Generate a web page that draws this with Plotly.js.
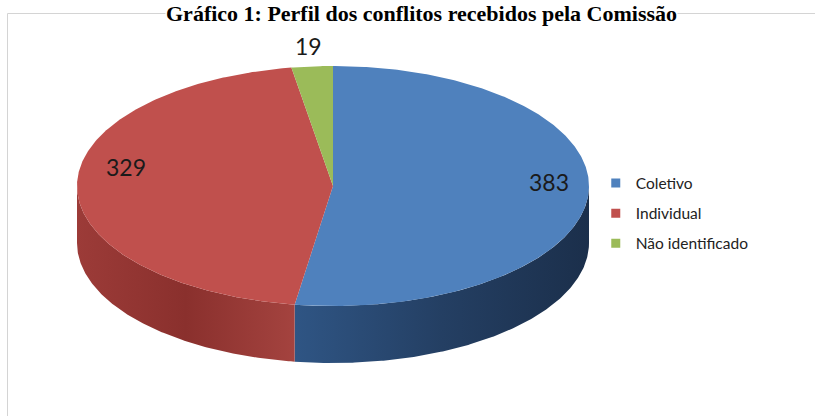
<!DOCTYPE html>
<html><head><meta charset="utf-8">
<script src="https://cdn.plot.ly/plotly-3.0.1.min.js"></script>
<style>html,body{margin:0;padding:0;background:#fff}#chart{width:815px;height:416px}</style>
</head><body><div id="chart"></div>
<script>
const categories = ['Coletivo', 'Individual', 'Não identificado'];
const values = [383, 329, 19];
const topColors = ['#4f81bd', '#c0504d', '#9bbb59'];
const sideScales = [
  [[0, '#2f5584'], [0.5, '#243f63'], [1, '#1b2f4b']],
  [[0, '#9c3b38'], [0.5, '#8a302d'], [1, '#a4433f']],
  [[0, '#7a9a3e'], [1, '#6a8834']]
];
const titleText = 'Gráfico 1: Perfil dos conflitos recebidos pela Comissão';

// geometry of the 3D pie (styling)
const CX = 333, CY = 186, RX = 256, RY = 120, DEPTH = 57;
const total = values.reduce((a, b) => a + b, 0);
const rad = d => d * Math.PI / 180;
const px = t => CX + RX * Math.sin(rad(t));
const py = t => CY - RY * Math.cos(rad(t));

const traces = [];
let start = 0;
const spans = values.map(v => { const s = start, e = start + 360 * v / total; start = e; return [s, e]; });

// side walls (front half only: 90..270 deg)
spans.forEach(([s, e], i) => {
  const a = Math.max(s, 90), b = Math.min(e, 270);
  if (b <= a) return;
  const xs = [], ys = [];
  for (let t = a; t <= b; t += 0.5) { xs.push(px(t)); ys.push(py(t)); }
  xs.push(px(b)); ys.push(py(b));
  for (let t = b; t >= a; t -= 0.5) { xs.push(px(t)); ys.push(py(t) + DEPTH); }
  xs.push(px(a)); ys.push(py(a) + DEPTH);
  traces.push({
    type: 'scatter', mode: 'lines', x: xs, y: ys, fill: 'toself',
    fillgradient: { type: 'horizontal', colorscale: sideScales[i] },
    line: { width: 0 }, hoverinfo: 'skip', showlegend: false
  });
});

// top faces
spans.forEach(([s, e], i) => {
  const xs = [CX], ys = [CY];
  for (let t = s; t <= e; t += 0.5) { xs.push(px(t)); ys.push(py(t)); }
  xs.push(px(e)); ys.push(py(e)); xs.push(CX); ys.push(CY);
  traces.push({
    type: 'scatter', mode: 'lines', x: xs, y: ys, fill: 'toself',
    fillcolor: topColors[i], line: { width: 0 }, hoverinfo: 'skip', showlegend: false
  });
});

// legend entries
categories.forEach((c, i) => {
  traces.push({
    type: 'scatter', mode: 'markers', x: [null], y: [null], name: c,
    marker: { symbol: 'square', size: 9, color: topColors[i] },
    legendgroup: 'g' + i, showlegend: true
  });
});

// data labels
const labelK = [0.845, 0.82, 1.16];
const labelDx = [0, 3, 0];
const labelDy = [-12, -20, -1];
const annotations = spans.map(([s, e], i) => {
  const m = (s + e) / 2, k = labelK[i];
  return {
    x: CX + RX * k * Math.sin(rad(m)) + labelDx[i], y: CY - RY * k * Math.cos(rad(m)) + labelDy[i],
    xref: 'x', yref: 'y', text: String(values[i]), showarrow: false,
    font: { family: 'Lato, sans-serif', size: 23, color: '#1a1a1a' }
  };
});
annotations.push({
  x: 421, y: 0, xref: 'x', yref: 'y', yanchor: 'top', text: '<b>' + titleText + '</b>',
  showarrow: false, bgcolor: '#ffffff', borderpad: 0,
  font: { family: 'Liberation Serif, serif', size: 22, color: '#000' }
});

const layout = {
  width: 815, height: 416, margin: { l: 0, r: 0, t: 0, b: 0 },
  paper_bgcolor: '#fff', plot_bgcolor: '#fff',
  xaxis: { range: [0, 815], visible: false, fixedrange: true },
  yaxis: { range: [416, 0], visible: false, fixedrange: true },
  showlegend: true,
  legend: {
    x: 0.731, y: 0.6, xanchor: 'left', yanchor: 'top',
    font: { family: 'Lato, sans-serif', size: 15.5, color: '#222' },
    tracegroupgap: 7, traceorder: 'grouped', itemwidth: 30
  },
  shapes: [{ type: 'rect', xref: 'x', yref: 'y', x0: 7.5, y0: 13.5, x1: 830, y1: 430,
    line: { color: '#d4d4d4', width: 1 } }],
  annotations: annotations
};
Plotly.newPlot('chart', traces, layout, { displayModeBar: false, staticPlot: true });
</script></body></html>
